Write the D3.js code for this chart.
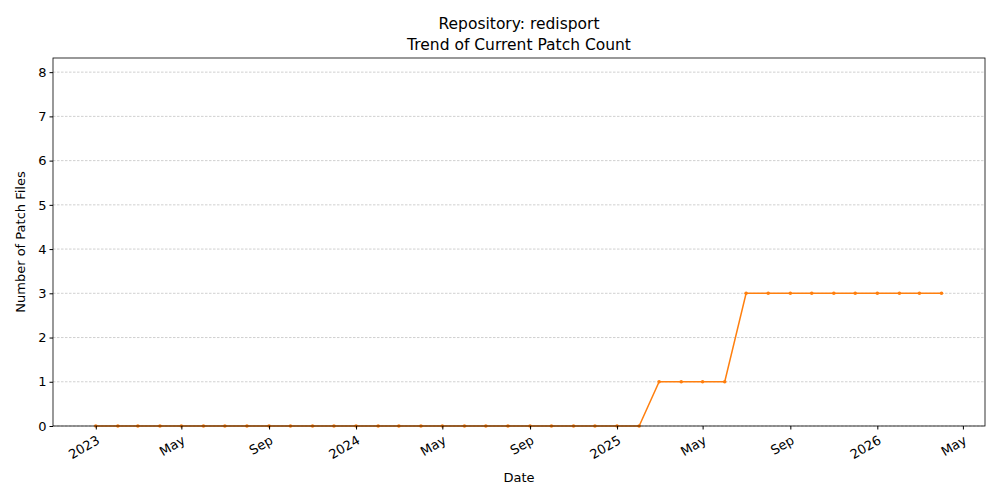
<!DOCTYPE html><html><head><meta charset="utf-8"><script src="https://cdn.jsdelivr.net/npm/d3@7"></script>
<style>body{margin:0;background:#fff}text{font-family:"DejaVu Sans",sans-serif}</style></head><body>
<svg id="c" width="1000" height="500"></svg>
<script>
const months = ["2023-01","2023-02","2023-03","2023-04","2023-05","2023-06","2023-07","2023-08","2023-09","2023-10","2023-11","2023-12","2024-01","2024-02","2024-03","2024-04","2024-05","2024-06","2024-07","2024-08","2024-09","2024-10","2024-11","2024-12","2025-01","2025-02","2025-03","2025-04","2025-05","2025-06","2025-07","2025-08","2025-09","2025-10","2025-11","2025-12","2026-01","2026-02","2026-03","2026-04"];
const counts = [0,0,0,0,0,0,0,0,0,0,0,0,0,0,0,0,0,0,0,0,0,0,0,0,0,0,1,1,1,1,3,3,3,3,3,3,3,3,3,3];
const yTicks = [0,1,2,3,4,5,6,7,8];
const xTickLabels = ["2023","May","Sep","2024","May","Sep","2025","May","Sep","2026","May"];
const xTickDates = ["2023-01","2023-05","2023-09","2024-01","2024-05","2024-09","2025-01","2025-05","2025-09","2026-01","2026-05"];
const P = d3.timeParse("%Y-%m");
const svg = d3.select("#c");
const L=53,R=985,T=58,B=426;
const x = d3.scaleTime().domain([new Date(2022,10,2),new Date(2026,5,1)]).range([L,R]);
const y = d3.scaleLinear().domain([0,8.32]).range([B,T]);
svg.append("g").selectAll("line").data(yTicks).join("line").attr("x1",L).attr("x2",R)
 .attr("y1",d=>y(d)).attr("y2",d=>y(d)).attr("stroke","#b0b0b0").attr("stroke-width",0.6).attr("stroke-dasharray","2.5,1.5");
const data = months.map((m,i)=>({d:P(m),v:counts[i]}));
svg.append("path").datum(data).attr("fill","none").attr("stroke","#ff7f0e").attr("stroke-width",1.5)
 .attr("d",d3.line().x(d=>x(d.d)).y(d=>y(d.v)));
svg.append("g").selectAll("circle").data(data).join("circle").attr("cx",d=>x(d.d)).attr("cy",d=>y(d.v)).attr("r",1.8).attr("fill","#ff7f0e");
svg.append("rect").attr("x",L).attr("y",T).attr("width",R-L).attr("height",B-T).attr("fill","none").attr("stroke","#000").attr("stroke-width",0.8);
const ya = svg.append("g").attr("transform",`translate(${L},0)`).call(d3.axisLeft(y).tickValues(yTicks).tickSize(3.5).tickSizeOuter(0));
ya.select(".domain").remove();
ya.selectAll("text").attr("font-size",13).attr("fill","#000").attr("font-family","DejaVu Sans");
const xa = svg.append("g").attr("transform",`translate(0,${B})`).call(d3.axisBottom(x).tickValues(xTickDates.map(P)).tickFormat((d,i)=>xTickLabels[i]).tickSize(3.5).tickSizeOuter(0));
xa.select(".domain").remove();
xa.selectAll("text").attr("font-size",13).attr("fill","#000").attr("font-family","DejaVu Sans")
 .attr("text-anchor","end").attr("y",0).attr("dy","0.35em").attr("transform","translate(2,13) rotate(-30)");
svg.append("text").attr("x",519).attr("y",29).attr("text-anchor","middle").attr("font-size",15.5).text("Repository: redisport");
svg.append("text").attr("x",519).attr("y",50).attr("text-anchor","middle").attr("font-size",15.5).text("Trend of Current Patch Count");
svg.append("text").attr("x",519).attr("y",482).attr("text-anchor","middle").attr("font-size",13).text("Date");
svg.append("text").attr("transform","translate(25,242) rotate(-90)").attr("text-anchor","middle").attr("font-size",13).text("Number of Patch Files");
</script></body></html>
